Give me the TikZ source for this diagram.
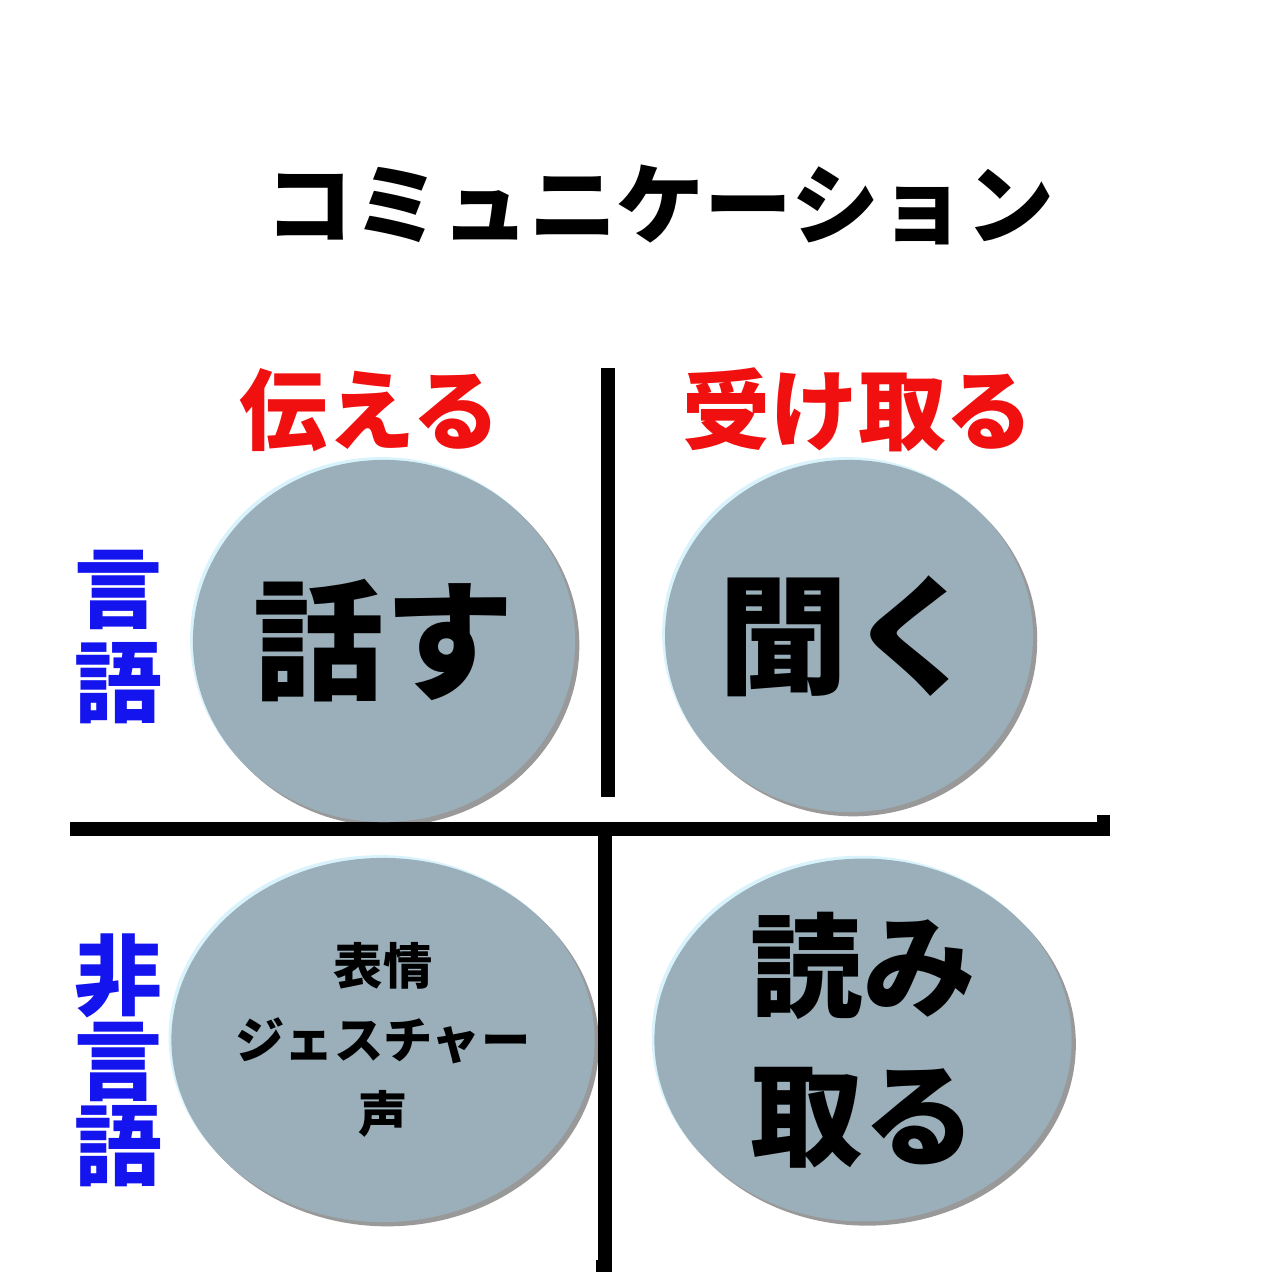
\documentclass[tikz,border=0pt]{standalone}
\usepackage{fontspec}
\setmainfont{Noto Sans CJK JP}
\usetikzlibrary{shapes.geometric, shadows, positioning}
\definecolor{BALLgray}{HTML}{9AAFB9}
\definecolor{HEADred}{HTML}{F01010}
\definecolor{SIDEblue}{HTML}{1414EE}

\begin{document}
\begin{tikzpicture}[x=0.01cm, y=-0.01cm,
   ball/.style={ellipse, fill=BALLgray, inner sep=0pt, align=center,
      drop shadow={shadow xshift=-0.8pt, shadow yshift=0.8pt, fill=cyan!15, opacity=1},
      drop shadow={shadow xshift=1.2pt, shadow yshift=-1.2pt, fill=black, opacity=0.4}},
   head/.style={font=\fontsize{25}{30}\selectfont\bfseries, text=HEADred},
   side/.style={text=SIDEblue, align=center},
   bar/.style={line width=4pt}]
      \useasboundingbox (0,0) rectangle (1280,1280);
      % Title
      \node[font=\fontsize{25}{30}\selectfont\bfseries] (title) at (660,205) {コミュニケーション};
      % Column heads
      \node[head] (send) at (370,410) {伝える};
      \node[head] (receive) at (858,410) {受け取る};
      % Row heads
      \node[side, font=\fontsize{25}{26.5}\selectfont\bfseries] (verbal) at (118,637) {言\\語};
      \node[side, font=\fontsize{25}{24.2}\selectfont\bfseries] (nonverbal) at (118,1060) {非\\言\\語};
      % Quadrant lines
      \draw[bar] (608,368) -- (608,797);
      \draw[bar] (70,829) -- (1110,829);
      \fill (1097,815) rectangle (1110,829);
      \draw[bar] (605,836) -- (605,1272);
      \fill (596,1260) rectangle (605,1272);
      % Circles
      \node[ball, minimum width=3.82cm, minimum height=3.62cm, font=\fontsize{37}{40}\selectfont\bfseries] (speak) at (384,641) {話す};
      \node[ball, minimum width=3.62cm, minimum height=3.52cm, font=\fontsize{37}{40}\selectfont\bfseries] (listen) at (849,636) {聞く};
      \node[ball, minimum width=4.23cm, minimum height=3.64cm, font=\fontsize{14}{21}\selectfont\bfseries] (express) at (383,1040) {表情\\ジェスチャー\\声};
      \node[ball, minimum width=4.17cm, minimum height=3.50cm, font=\fontsize{32}{42.5}\selectfont\bfseries] (read) at (863,1040) {読み\\取る};
   \end{tikzpicture}
\end{document}
